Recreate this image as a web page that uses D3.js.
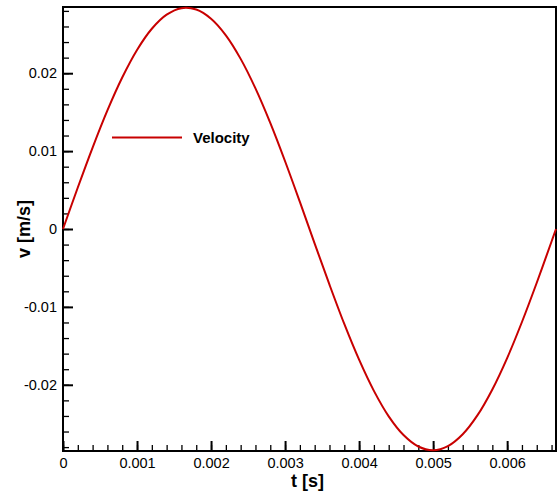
<!DOCTYPE html>
<meta charset="utf-8">
<style>
body { margin: 0; background: #fff; }
svg { font-family: "Liberation Sans", Arial, sans-serif; }
.title { font-size: 18px; font-weight: bold; }
</style>
<body>
<script src="https://d3js.org/d3.v7.min.js"></script>
<script>

// time [s] and velocity [m/s]
var time = [0, 0.0002, 0.0004, 0.0006, 0.0008, 0.0010, 0.0012, 0.0014, 0.0016, 0.0018,
            0.0020, 0.0022, 0.0024, 0.0026, 0.0028, 0.0030, 0.0032, 0.0034, 0.0036, 0.0038,
            0.0040, 0.0042, 0.0044, 0.0046, 0.0048, 0.0050, 0.0052, 0.0054, 0.0056, 0.0058,
            0.0060, 0.0062, 0.0064, 0.0066, 0.00666];
var velocity = [0, 0.00533, 0.01046, 0.01523, 0.01945, 0.02299, 0.02571, 0.02752, 0.02835, 0.02817,
                0.02699, 0.02486, 0.02184, 0.01805, 0.01362, 0.00870, 0.00348, -0.00187, -0.00715, -0.01219,
                -0.01678, -0.02078, -0.02405, -0.02645, -0.02792, -0.02840, -0.02787, -0.02635, -0.02390, -0.02060,
                -0.01657, -0.01194, -0.00690, -0.00160, 0];

var xTicks = [0, 0.001, 0.002, 0.003, 0.004, 0.005, 0.006];
var yTicks = [-0.02, -0.01, 0, 0.01, 0.02];
var legendLabel = "Velocity";

var W = 560, H = 497;
var margin = {top: 7, right: 4, bottom: 46, left: 63},
    width = W - margin.left - margin.right,
    height = H - margin.top - margin.bottom;

var x = d3.scaleLinear().domain([0, 0.00666]).range([0, width]);
var y = d3.scaleLinear().domain([-0.0285, 0.0285]).range([height, 0]);

var fmt = function(d) { return String(d); };

var svg = d3.select("body").append("svg")
    .attr("width", W)
    .attr("height", H)
  .append("g")
    .attr("transform", "translate(" + margin.left + "," + margin.top + ")");

// minor ticks (inward)
var xMinor = d3.range(0, 0.00666, 0.0002);
var yMinor = d3.range(-0.028, 0.0285, 0.002);

svg.append("g")
    .attr("transform", "translate(0," + height + ")")
    .call(d3.axisTop(x).tickValues(xMinor).tickSize(6).tickFormat(""))
    .call(function(g) { g.select(".domain").remove(); })
    .selectAll("line").attr("stroke-width", 1.3);

svg.append("g")
    .call(d3.axisRight(y).tickValues(yMinor).tickSize(6).tickFormat(""))
    .call(function(g) { g.select(".domain").remove(); })
    .selectAll("line").attr("stroke-width", 1.3);

// major ticks
var xAxis = svg.append("g")
    .attr("transform", "translate(0," + height + ")")
    .call(d3.axisTop(x).tickValues(xTicks).tickSize(10).tickFormat(fmt));
xAxis.attr("font-size", null).attr("font-family", null);
xAxis.select(".domain").remove();
xAxis.selectAll("line").attr("stroke-width", 2);
xAxis.selectAll("text")
    .attr("y", 17).attr("dy", "0")
    .style("font-size", "14.5px");

var yAxis = svg.append("g")
    .call(d3.axisRight(y).tickValues(yTicks).tickSize(10).tickFormat(fmt));
yAxis.attr("font-size", null).attr("font-family", null);
yAxis.select(".domain").remove();
yAxis.selectAll("line").attr("stroke-width", 2);
yAxis.selectAll("text")
    .attr("x", -6).attr("text-anchor", "end")
    .style("font-size", "14.5px");

// frame
svg.append("rect")
    .attr("width", width)
    .attr("height", height)
    .attr("fill", "none")
    .attr("stroke", "#000")
    .attr("stroke-width", 2);

var line = d3.line()
    .x(function(d, i) { return x(time[i]); })
    .y(function(d) { return y(d); })
    .curve(d3.curveCatmullRom);

svg.append("path")
    .datum(velocity)
    .attr("fill", "none")
    .attr("stroke", "#c80000")
    .attr("stroke-width", 2)
    .attr("d", line);

// legend
svg.append("line")
    .attr("x1", 49).attr("x2", 119)
    .attr("y1", 130.5).attr("y2", 130.5)
    .attr("stroke", "#c80000")
    .attr("stroke-width", 2);

svg.append("text")
    .attr("x", 130)
    .attr("y", 135.5)
    .style("font-size", "15px")
    .style("font-weight", "bold")
    .text(legendLabel);

// axis titles
svg.append("text")
    .attr("class", "title")
    .attr("x", width / 2 - 2)
    .attr("y", height + 36)
    .attr("text-anchor", "middle")
    .text("t [s]");

svg.append("text")
    .attr("class", "title")
    .attr("transform", "translate(" + (30 - margin.left) + "," + (height / 2) + ") rotate(-90)")
    .attr("text-anchor", "middle")
    .text("v [m/s]");

</script>
